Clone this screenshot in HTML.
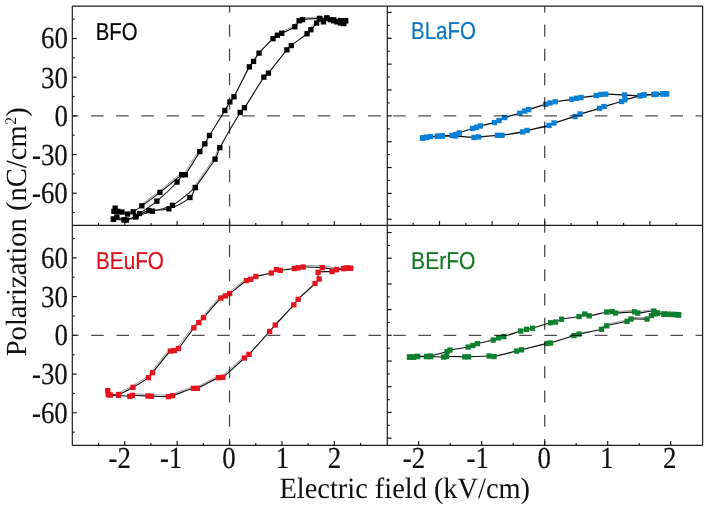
<!DOCTYPE html>
<html><head><meta charset="utf-8"><style>
html,body{margin:0;padding:0;background:#fff;}
body{width:708px;height:510px;overflow:hidden;position:relative;}
svg{position:absolute;left:0;top:0;will-change:transform;}
.s{font-family:"Liberation Serif",serif;fill:#111;}
.t{stroke:#111;stroke-width:0.2;}
.n{font-family:"Liberation Sans",sans-serif;}
</style></head><body>
<svg width="708" height="510" viewBox="0 0 708 510" text-rendering="geometricPrecision">
<rect width="708" height="510" fill="#fff"/>
<path d="M319.43,16.90 C316.58,17.10 305.89,17.66 302.33,18.11 C300.09,18.39 299.46,18.37 298.08,19.60 C296.69,20.83 296.86,23.43 294.02,25.49 C291.18,27.54 283.96,30.53 281.04,31.95 C278.81,33.04 277.27,33.67 276.52,34.02" fill="none" stroke="#8a8a8a" stroke-width="0.9"/>
<path d="M198.53,150.80 C196.13,154.63 187.05,170.00 184.12,173.78 C183.14,175.04 182.25,172.56 180.94,173.47 C176.77,176.38 165.75,186.01 159.08,191.22 C152.41,196.42 143.94,202.44 140.92,204.69" fill="none" stroke="#8a8a8a" stroke-width="0.9"/>
<path d="M345.50,20.70 C344.65,20.67 342.38,20.65 340.40,20.50 C338.42,20.35 335.87,20.13 333.60,19.80 C331.33,19.47 329.15,18.73 326.80,18.50 C324.45,18.27 323.15,18.23 319.50,18.40 C315.45,18.58 305.90,19.22 302.50,19.60 C300.72,19.80 300.37,19.52 299.10,20.70 C297.83,21.88 297.80,24.60 294.90,26.70 C292.00,28.80 284.63,31.87 281.70,33.30 C279.53,34.36 278.75,34.42 277.30,35.30 C275.85,36.18 274.94,36.71 273.00,38.60 C269.95,41.57 262.23,49.30 259.00,53.10 C255.79,56.87 255.22,59.10 253.60,61.40 C251.98,63.70 250.99,63.85 249.30,66.90 C246.03,72.80 237.23,90.95 234.00,96.80 C232.40,99.70 231.42,99.73 229.90,102.00 C228.38,104.27 227.44,106.23 224.90,110.40 C221.50,115.98 212.85,129.93 209.50,135.50 C207.04,139.59 206.42,141.12 204.80,143.80 C203.18,146.48 202.27,147.68 199.80,151.60 C196.55,156.75 188.30,170.85 185.30,174.70 C184.22,176.08 183.23,173.70 181.80,174.70 C177.58,177.65 166.67,187.20 160.00,192.40 C153.33,197.60 146.27,202.65 141.80,205.90 C137.56,208.98 135.57,210.53 133.20,211.90 C130.83,213.27 129.47,214.07 127.60,214.10 C125.73,214.13 123.60,212.57 122.00,212.10 C120.40,211.63 119.13,211.95 118.00,211.30 C116.87,210.65 115.87,208.20 115.20,208.20 C114.53,208.20 114.20,210.78 114.00,211.30" fill="none" stroke="#111" stroke-width="1.15" stroke-linejoin="round"/>
<path d="M181.80,174.70 C181.02,175.93 180.11,178.91 177.10,182.10 C172.93,186.52 163.07,195.95 156.80,201.20 C150.53,206.45 143.05,210.97 139.50,213.60 C137.39,215.16 137.67,215.92 135.50,217.00 C133.33,218.08 128.38,219.63 126.50,220.10 C125.37,220.38 125.30,220.16 124.20,219.80 C122.60,219.28 118.68,217.10 116.90,217.00 C115.12,216.90 114.07,218.83 113.50,219.20" fill="none" stroke="#333" stroke-width="1.15" stroke-linejoin="round"/>
<path d="M194.04,186.78 C197.34,182.05 209.75,165.05 213.82,158.42 C217.05,153.16 217.70,148.89 218.48,146.99" fill="none" stroke="#8a8a8a" stroke-width="0.9"/>
<path d="M306.06,32.53 C306.66,31.89 308.12,30.45 309.68,28.70 C311.25,26.95 313.79,23.88 315.46,22.02 C317.14,20.16 318.46,17.81 319.74,17.52 C321.02,17.24 322.59,19.85 323.16,20.32" fill="none" stroke="#8a8a8a" stroke-width="0.9"/>
<path d="M113.50,219.20 C115.28,219.30 120.47,220.25 124.20,219.80 C127.93,219.35 131.80,218.03 135.90,216.50 C140.00,214.97 143.32,211.88 148.80,210.60 C154.28,209.32 161.93,210.97 168.80,208.80 C175.67,206.63 185.58,201.13 190.00,197.60 C194.42,194.07 192.20,192.34 195.30,187.60 C199.48,181.20 211.02,165.85 215.10,159.20 C218.35,153.91 216.86,153.17 219.80,147.70 C223.98,139.92 236.08,119.15 240.20,112.50 C241.88,109.79 242.72,110.44 244.50,107.80 C248.45,101.92 259.92,82.97 263.90,77.20 C265.61,74.72 266.47,75.51 268.40,73.20 C272.22,68.65 283.00,54.52 286.80,49.90 C288.78,47.50 288.77,47.45 291.20,45.50 C294.57,42.80 303.73,36.33 307.00,33.70 C309.15,31.97 309.20,31.48 310.80,29.70 C312.40,27.92 315.07,24.78 316.60,23.00 C318.13,21.22 318.87,19.20 320.00,19.00 C321.13,18.80 322.27,21.98 323.40,21.80 C324.53,21.62 325.67,18.27 326.80,17.90 C327.93,17.53 329.07,19.13 330.20,19.60 C331.33,20.07 332.47,20.33 333.60,20.70 C334.73,21.07 335.87,21.42 337.00,21.80 C338.13,22.18 339.27,22.72 340.40,23.00 C341.53,23.28 342.95,23.88 343.80,23.50 C344.65,23.12 345.22,21.17 345.50,20.70" fill="none" stroke="#111" stroke-width="1.15" stroke-linejoin="round"/>
<path d="M195.30,187.60 C191.48,190.55 179.55,201.37 172.40,205.30 C165.25,209.23 158.48,209.33 152.40,211.20 C146.32,213.07 138.65,215.62 135.90,216.50" fill="none" stroke="#222" stroke-width="1.15" stroke-linejoin="round"/>
<rect x="342.9" y="18.1" width="5.3" height="5.3" fill="#000000"/>
<rect x="337.8" y="17.9" width="5.3" height="5.3" fill="#000000"/>
<rect x="331.0" y="17.2" width="5.3" height="5.3" fill="#000000"/>
<rect x="324.2" y="15.8" width="5.3" height="5.3" fill="#000000"/>
<rect x="316.9" y="15.7" width="5.3" height="5.3" fill="#000000"/>
<rect x="299.9" y="17.0" width="5.3" height="5.3" fill="#000000"/>
<rect x="296.5" y="18.1" width="5.3" height="5.3" fill="#000000"/>
<rect x="292.2" y="24.1" width="5.3" height="5.3" fill="#000000"/>
<rect x="279.1" y="30.6" width="5.3" height="5.3" fill="#000000"/>
<rect x="274.7" y="32.6" width="5.3" height="5.3" fill="#000000"/>
<rect x="270.4" y="36.0" width="5.3" height="5.3" fill="#000000"/>
<rect x="256.4" y="50.5" width="5.3" height="5.3" fill="#000000"/>
<rect x="250.9" y="58.8" width="5.3" height="5.3" fill="#000000"/>
<rect x="246.7" y="64.2" width="5.3" height="5.3" fill="#000000"/>
<rect x="231.3" y="94.1" width="5.3" height="5.3" fill="#000000"/>
<rect x="227.2" y="99.3" width="5.3" height="5.3" fill="#000000"/>
<rect x="222.2" y="107.8" width="5.3" height="5.3" fill="#000000"/>
<rect x="206.8" y="132.8" width="5.3" height="5.3" fill="#000000"/>
<rect x="202.2" y="141.2" width="5.3" height="5.3" fill="#000000"/>
<rect x="197.2" y="148.9" width="5.3" height="5.3" fill="#000000"/>
<rect x="182.7" y="172.0" width="5.3" height="5.3" fill="#000000"/>
<rect x="179.2" y="172.0" width="5.3" height="5.3" fill="#000000"/>
<rect x="157.3" y="189.8" width="5.3" height="5.3" fill="#000000"/>
<rect x="139.2" y="203.2" width="5.3" height="5.3" fill="#000000"/>
<rect x="130.5" y="209.2" width="5.3" height="5.3" fill="#000000"/>
<rect x="124.9" y="211.4" width="5.3" height="5.3" fill="#000000"/>
<rect x="119.3" y="209.4" width="5.3" height="5.3" fill="#000000"/>
<rect x="115.3" y="208.7" width="5.3" height="5.3" fill="#000000"/>
<rect x="112.5" y="205.5" width="5.3" height="5.3" fill="#000000"/>
<rect x="111.3" y="208.7" width="5.3" height="5.3" fill="#000000"/>
<rect x="179.2" y="172.0" width="5.3" height="5.3" fill="#000000"/>
<rect x="174.4" y="179.4" width="5.3" height="5.3" fill="#000000"/>
<rect x="154.2" y="198.5" width="5.3" height="5.3" fill="#000000"/>
<rect x="136.8" y="210.9" width="5.3" height="5.3" fill="#000000"/>
<rect x="132.8" y="214.3" width="5.3" height="5.3" fill="#000000"/>
<rect x="123.8" y="217.4" width="5.3" height="5.3" fill="#000000"/>
<rect x="121.5" y="217.2" width="5.3" height="5.3" fill="#000000"/>
<rect x="114.2" y="214.3" width="5.3" height="5.3" fill="#000000"/>
<rect x="110.8" y="216.5" width="5.3" height="5.3" fill="#000000"/>
<rect x="110.8" y="216.5" width="5.3" height="5.3" fill="#000000"/>
<rect x="121.5" y="217.2" width="5.3" height="5.3" fill="#000000"/>
<rect x="133.2" y="213.8" width="5.3" height="5.3" fill="#000000"/>
<rect x="146.2" y="207.9" width="5.3" height="5.3" fill="#000000"/>
<rect x="166.2" y="206.2" width="5.3" height="5.3" fill="#000000"/>
<rect x="187.3" y="194.9" width="5.3" height="5.3" fill="#000000"/>
<rect x="192.7" y="184.9" width="5.3" height="5.3" fill="#000000"/>
<rect x="212.4" y="156.5" width="5.3" height="5.3" fill="#000000"/>
<rect x="217.2" y="145.0" width="5.3" height="5.3" fill="#000000"/>
<rect x="237.5" y="109.8" width="5.3" height="5.3" fill="#000000"/>
<rect x="241.8" y="105.1" width="5.3" height="5.3" fill="#000000"/>
<rect x="261.2" y="74.5" width="5.3" height="5.3" fill="#000000"/>
<rect x="265.8" y="70.5" width="5.3" height="5.3" fill="#000000"/>
<rect x="284.2" y="47.2" width="5.3" height="5.3" fill="#000000"/>
<rect x="288.6" y="42.9" width="5.3" height="5.3" fill="#000000"/>
<rect x="304.4" y="31.1" width="5.3" height="5.3" fill="#000000"/>
<rect x="308.2" y="27.1" width="5.3" height="5.3" fill="#000000"/>
<rect x="314.0" y="20.4" width="5.3" height="5.3" fill="#000000"/>
<rect x="317.4" y="16.4" width="5.3" height="5.3" fill="#000000"/>
<rect x="320.8" y="19.2" width="5.3" height="5.3" fill="#000000"/>
<rect x="324.2" y="15.2" width="5.3" height="5.3" fill="#000000"/>
<rect x="327.6" y="17.0" width="5.3" height="5.3" fill="#000000"/>
<rect x="331.0" y="18.1" width="5.3" height="5.3" fill="#000000"/>
<rect x="334.4" y="19.2" width="5.3" height="5.3" fill="#000000"/>
<rect x="337.8" y="20.4" width="5.3" height="5.3" fill="#000000"/>
<rect x="341.2" y="20.9" width="5.3" height="5.3" fill="#000000"/>
<rect x="342.9" y="18.1" width="5.3" height="5.3" fill="#000000"/>
<rect x="192.7" y="184.9" width="5.3" height="5.3" fill="#000000"/>
<rect x="169.8" y="202.7" width="5.3" height="5.3" fill="#000000"/>
<rect x="149.8" y="208.5" width="5.3" height="5.3" fill="#000000"/>
<rect x="133.2" y="213.8" width="5.3" height="5.3" fill="#000000"/>
<path d="M666.50,93.80 C665.92,93.83 664.67,93.92 663.00,94.00 C661.33,94.08 658.00,94.22 656.50,94.30 C655.25,94.37 655.25,94.43 654.00,94.50 C651.92,94.62 646.33,94.78 644.00,95.00 C641.97,95.19 642.04,95.80 640.00,95.80 C636.75,95.80 630.20,95.27 624.50,95.00 C618.80,94.73 609.72,94.30 605.80,94.20 C603.40,94.14 602.60,94.17 601.00,94.40 C599.40,94.63 598.64,95.21 596.20,95.60 C592.87,96.13 584.28,97.15 581.00,97.60 C578.74,97.91 578.03,98.02 576.50,98.30 C574.97,98.58 574.17,98.91 571.80,99.30 C568.27,99.88 558.93,101.18 555.30,101.80 C552.62,102.25 551.63,102.58 550.00,103.00 C548.37,103.42 547.74,103.60 545.50,104.30 C541.93,105.42 532.07,108.57 528.60,109.70 C526.63,110.34 526.18,110.50 524.70,111.10 C523.22,111.70 522.30,112.46 519.70,113.30 C516.33,114.38 507.95,116.38 504.50,117.60 C501.55,118.64 500.68,119.77 499.00,120.60 C497.32,121.43 496.81,121.90 494.40,122.60 C491.28,123.50 483.28,125.22 480.30,126.00 C478.36,126.51 477.80,126.88 476.50,127.30 C475.20,127.72 474.48,127.85 472.50,128.50 C469.62,129.45 462.02,132.00 459.20,133.00 C457.36,133.65 456.80,134.08 455.60,134.50 C454.40,134.92 453.86,135.32 452.00,135.50 C449.77,135.72 444.63,135.68 442.20,135.80 C439.79,135.92 439.37,136.07 437.40,136.20 C435.43,136.33 432.22,136.43 430.40,136.60 C428.58,136.77 427.82,136.97 426.50,137.20 C425.18,137.43 423.17,137.87 422.50,138.00" fill="none" stroke="#111" stroke-width="1.3" stroke-linejoin="round"/>
<path d="M422.50,138.00 C423.17,137.93 424.50,137.81 426.50,137.60 C428.98,137.33 434.78,136.65 437.40,136.40 C439.79,136.17 439.80,136.15 442.20,136.10 C445.23,136.03 451.57,135.88 455.60,136.00 C459.63,136.12 463.33,136.55 466.40,136.80 C469.47,137.05 471.98,137.47 474.00,137.50 C476.02,137.53 476.25,137.21 478.50,137.00 C482.38,136.63 493.38,135.58 497.30,135.30 C499.64,135.13 499.67,135.61 502.00,135.30 C506.20,134.75 518.33,132.80 522.50,132.00 C524.83,131.55 524.70,131.06 527.00,130.50 C531.42,129.42 544.50,126.75 549.00,125.50 C551.69,124.75 551.36,123.92 554.00,123.00 C558.33,121.48 570.67,117.90 575.00,116.40 C577.62,115.49 577.37,114.87 580.00,114.00 C584.08,112.65 595.50,109.53 599.50,108.30 C601.80,107.59 601.70,107.31 604.00,106.60 C607.67,105.47 618.00,102.63 621.50,101.50 C623.35,100.90 623.14,100.37 625.00,99.80 C628.08,98.85 636.83,96.60 640.00,95.80 C641.98,95.30 641.97,95.19 644.00,95.00 C646.33,94.78 650.83,94.67 654.00,94.50 C657.17,94.33 660.92,94.12 663.00,94.00 C664.75,93.90 665.92,93.83 666.50,93.80" fill="none" stroke="#111" stroke-width="1.3" stroke-linejoin="round"/>
<rect x="663.9" y="91.1" width="5.3" height="5.3" fill="#0880d6"/>
<rect x="660.4" y="91.3" width="5.3" height="5.3" fill="#0880d6"/>
<rect x="653.9" y="91.6" width="5.3" height="5.3" fill="#0880d6"/>
<rect x="651.4" y="91.8" width="5.3" height="5.3" fill="#0880d6"/>
<rect x="641.4" y="92.3" width="5.3" height="5.3" fill="#0880d6"/>
<rect x="637.4" y="93.1" width="5.3" height="5.3" fill="#0880d6"/>
<rect x="621.9" y="92.3" width="5.3" height="5.3" fill="#0880d6"/>
<rect x="603.1" y="91.5" width="5.3" height="5.3" fill="#0880d6"/>
<rect x="598.4" y="91.8" width="5.3" height="5.3" fill="#0880d6"/>
<rect x="593.6" y="92.9" width="5.3" height="5.3" fill="#0880d6"/>
<rect x="578.4" y="94.9" width="5.3" height="5.3" fill="#0880d6"/>
<rect x="573.9" y="95.6" width="5.3" height="5.3" fill="#0880d6"/>
<rect x="569.1" y="96.6" width="5.3" height="5.3" fill="#0880d6"/>
<rect x="552.6" y="99.1" width="5.3" height="5.3" fill="#0880d6"/>
<rect x="547.4" y="100.3" width="5.3" height="5.3" fill="#0880d6"/>
<rect x="542.9" y="101.6" width="5.3" height="5.3" fill="#0880d6"/>
<rect x="526.0" y="107.0" width="5.3" height="5.3" fill="#0880d6"/>
<rect x="522.1" y="108.4" width="5.3" height="5.3" fill="#0880d6"/>
<rect x="517.1" y="110.6" width="5.3" height="5.3" fill="#0880d6"/>
<rect x="501.9" y="114.9" width="5.3" height="5.3" fill="#0880d6"/>
<rect x="496.4" y="117.9" width="5.3" height="5.3" fill="#0880d6"/>
<rect x="491.8" y="119.9" width="5.3" height="5.3" fill="#0880d6"/>
<rect x="477.7" y="123.3" width="5.3" height="5.3" fill="#0880d6"/>
<rect x="473.9" y="124.6" width="5.3" height="5.3" fill="#0880d6"/>
<rect x="469.9" y="125.8" width="5.3" height="5.3" fill="#0880d6"/>
<rect x="456.6" y="130.3" width="5.3" height="5.3" fill="#0880d6"/>
<rect x="453.0" y="131.8" width="5.3" height="5.3" fill="#0880d6"/>
<rect x="449.4" y="132.8" width="5.3" height="5.3" fill="#0880d6"/>
<rect x="439.6" y="133.2" width="5.3" height="5.3" fill="#0880d6"/>
<rect x="434.8" y="133.5" width="5.3" height="5.3" fill="#0880d6"/>
<rect x="427.8" y="133.9" width="5.3" height="5.3" fill="#0880d6"/>
<rect x="423.9" y="134.5" width="5.3" height="5.3" fill="#0880d6"/>
<rect x="419.9" y="135.3" width="5.3" height="5.3" fill="#0880d6"/>
<rect x="419.9" y="135.3" width="5.3" height="5.3" fill="#0880d6"/>
<rect x="423.9" y="134.9" width="5.3" height="5.3" fill="#0880d6"/>
<rect x="434.8" y="133.8" width="5.3" height="5.3" fill="#0880d6"/>
<rect x="439.6" y="133.4" width="5.3" height="5.3" fill="#0880d6"/>
<rect x="453.0" y="133.3" width="5.3" height="5.3" fill="#0880d6"/>
<rect x="471.4" y="134.8" width="5.3" height="5.3" fill="#0880d6"/>
<rect x="475.9" y="134.3" width="5.3" height="5.3" fill="#0880d6"/>
<rect x="494.7" y="132.7" width="5.3" height="5.3" fill="#0880d6"/>
<rect x="499.4" y="132.7" width="5.3" height="5.3" fill="#0880d6"/>
<rect x="519.9" y="129.3" width="5.3" height="5.3" fill="#0880d6"/>
<rect x="524.4" y="127.8" width="5.3" height="5.3" fill="#0880d6"/>
<rect x="546.4" y="122.8" width="5.3" height="5.3" fill="#0880d6"/>
<rect x="551.4" y="120.3" width="5.3" height="5.3" fill="#0880d6"/>
<rect x="572.4" y="113.8" width="5.3" height="5.3" fill="#0880d6"/>
<rect x="577.4" y="111.3" width="5.3" height="5.3" fill="#0880d6"/>
<rect x="596.9" y="105.6" width="5.3" height="5.3" fill="#0880d6"/>
<rect x="601.4" y="103.9" width="5.3" height="5.3" fill="#0880d6"/>
<rect x="618.9" y="98.8" width="5.3" height="5.3" fill="#0880d6"/>
<rect x="622.4" y="97.1" width="5.3" height="5.3" fill="#0880d6"/>
<rect x="637.4" y="93.1" width="5.3" height="5.3" fill="#0880d6"/>
<rect x="641.4" y="92.3" width="5.3" height="5.3" fill="#0880d6"/>
<rect x="651.4" y="91.8" width="5.3" height="5.3" fill="#0880d6"/>
<rect x="660.4" y="91.3" width="5.3" height="5.3" fill="#0880d6"/>
<rect x="663.9" y="91.1" width="5.3" height="5.3" fill="#0880d6"/>
<path d="M336.56,268.00 C334.19,267.69 327.89,266.52 322.31,266.10 C316.73,265.69 307.18,265.46 303.09,265.50 C300.39,265.52 298.64,266.18 297.75,266.32" fill="none" stroke="#8a8a8a" stroke-width="0.9"/>
<path d="M245.66,279.26 C242.85,281.43 232.29,289.75 228.82,292.29 C226.98,293.63 226.34,293.69 224.82,294.46 C223.31,295.24 221.75,294.95 219.74,296.94 C216.02,300.63 206.15,312.50 202.48,316.60 C200.19,319.17 199.34,319.85 197.71,321.57 C196.09,323.28 194.97,324.01 192.72,326.87 C189.33,331.20 180.47,343.83 177.36,347.53 C176.19,348.92 175.42,348.66 174.06,349.07 C172.71,349.47 170.97,348.21 169.23,349.94 C165.46,353.71 155.06,367.24 151.44,371.65 C149.48,374.03 149.97,374.55 147.50,376.40 C144.30,378.79 137.16,383.22 132.26,386.00 C127.36,388.78 120.47,391.90 118.11,393.08" fill="none" stroke="#8a8a8a" stroke-width="0.9"/>
<path d="M350.50,268.30 C349.92,268.25 348.17,267.97 347.00,268.00 C345.83,268.03 345.25,268.25 343.50,268.50 C341.75,268.75 340.03,269.65 336.50,269.50 C332.95,269.35 327.77,268.02 322.20,267.60 C316.63,267.18 307.13,266.97 303.10,267.00 C300.52,267.02 299.48,267.55 298.00,267.80 C296.52,268.05 296.11,268.23 294.20,268.50 C291.23,268.92 283.18,270.13 280.20,270.30 C278.21,270.41 277.80,269.05 276.30,269.50 C274.80,269.95 274.13,272.01 271.20,273.00 C267.80,274.15 259.30,275.37 255.90,276.40 C253.12,277.25 252.37,278.52 250.80,279.20 C249.23,279.88 248.36,279.24 246.50,280.50 C242.98,282.88 233.20,290.95 229.70,293.50 C227.76,294.91 226.98,295.05 225.50,295.80 C224.02,296.55 222.64,296.17 220.80,298.00 C217.15,301.63 207.27,313.50 203.60,317.60 C201.29,320.18 200.42,320.90 198.80,322.60 C197.18,324.30 196.10,324.99 193.90,327.80 C190.52,332.12 181.73,344.72 178.50,348.50 C177.05,350.20 175.87,350.08 174.50,350.50 C173.13,350.92 171.79,349.50 170.30,351.00 C166.65,354.68 156.25,368.17 152.60,372.60 C150.52,375.12 151.01,375.64 148.40,377.60 C145.13,380.05 137.97,384.48 133.00,387.30 C128.03,390.12 122.35,393.22 118.60,394.50 C114.85,395.78 112.18,395.00 110.50,395.00 C109.47,395.00 108.95,395.23 108.50,394.50 C108.05,393.77 107.92,391.25 107.80,390.60" fill="none" stroke="#111" stroke-width="1.15" stroke-linejoin="round"/>
<path d="M129.90,394.90 C130.33,394.72 131.07,393.83 132.47,393.80 C135.50,393.73 144.89,394.35 148.07,394.50 C149.81,394.58 149.81,394.65 151.54,394.70 C154.94,394.80 165.03,395.19 168.46,395.10 C170.35,395.05 170.33,394.78 172.12,394.18 C176.19,392.80 188.75,388.07 192.88,386.86 C194.81,386.29 195.06,387.71 196.91,386.92 C201.07,385.15 213.60,378.04 217.80,376.22 C219.78,375.37 220.38,377.29 222.10,376.00 C226.38,372.78 239.19,360.66 243.51,356.87 C245.68,354.97 247.26,353.87 248.01,353.27" fill="none" stroke="#8a8a8a" stroke-width="0.9"/>
<path d="M108.50,394.50 C110.18,394.63 115.03,394.98 118.60,395.30 C122.17,395.62 127.58,396.40 129.90,396.40 C131.31,396.40 131.09,395.33 132.50,395.30 C135.52,395.23 144.83,395.85 148.00,396.00 C149.75,396.08 149.75,396.15 151.50,396.20 C154.92,396.30 164.98,396.70 168.50,396.60 C170.61,396.54 170.60,396.27 172.60,395.60 C176.73,394.22 189.15,389.52 193.30,388.30 C195.32,387.71 195.57,389.12 197.50,388.30 C201.68,386.52 214.15,379.45 218.40,377.60 C220.52,376.68 221.15,378.59 223.00,377.20 C227.35,373.93 240.15,361.82 244.50,358.00 C246.72,356.05 247.07,356.45 249.10,354.30 C253.28,349.87 265.25,336.28 269.60,331.40 C272.43,328.22 272.33,328.14 275.20,325.00 C279.23,320.58 289.98,309.18 293.80,304.90 C296.15,302.26 295.62,301.81 298.10,299.30 C301.63,295.73 311.50,286.88 315.00,283.50 C317.19,281.38 318.60,280.87 319.10,279.00 C319.60,277.13 315.85,273.55 318.00,272.30 C320.15,271.05 328.92,271.97 332.00,271.50 C334.43,271.13 334.58,270.00 336.50,269.50 C338.42,269.00 341.75,268.75 343.50,268.50 C345.25,268.25 345.83,268.03 347.00,268.00 C348.17,267.97 349.92,268.25 350.50,268.30" fill="none" stroke="#111" stroke-width="1.15" stroke-linejoin="round"/>
<rect x="347.9" y="265.7" width="5.3" height="5.3" fill="#e6141e"/>
<rect x="344.4" y="265.4" width="5.3" height="5.3" fill="#e6141e"/>
<rect x="340.9" y="265.9" width="5.3" height="5.3" fill="#e6141e"/>
<rect x="333.9" y="266.9" width="5.3" height="5.3" fill="#e6141e"/>
<rect x="319.6" y="265.0" width="5.3" height="5.3" fill="#e6141e"/>
<rect x="300.5" y="264.4" width="5.3" height="5.3" fill="#e6141e"/>
<rect x="295.4" y="265.2" width="5.3" height="5.3" fill="#e6141e"/>
<rect x="291.6" y="265.9" width="5.3" height="5.3" fill="#e6141e"/>
<rect x="277.6" y="267.7" width="5.3" height="5.3" fill="#e6141e"/>
<rect x="273.7" y="266.9" width="5.3" height="5.3" fill="#e6141e"/>
<rect x="268.6" y="270.4" width="5.3" height="5.3" fill="#e6141e"/>
<rect x="253.2" y="273.8" width="5.3" height="5.3" fill="#e6141e"/>
<rect x="248.2" y="276.6" width="5.3" height="5.3" fill="#e6141e"/>
<rect x="243.8" y="277.9" width="5.3" height="5.3" fill="#e6141e"/>
<rect x="227.0" y="290.9" width="5.3" height="5.3" fill="#e6141e"/>
<rect x="222.8" y="293.2" width="5.3" height="5.3" fill="#e6141e"/>
<rect x="218.2" y="295.4" width="5.3" height="5.3" fill="#e6141e"/>
<rect x="200.9" y="315.0" width="5.3" height="5.3" fill="#e6141e"/>
<rect x="196.2" y="320.0" width="5.3" height="5.3" fill="#e6141e"/>
<rect x="191.2" y="325.2" width="5.3" height="5.3" fill="#e6141e"/>
<rect x="175.8" y="345.9" width="5.3" height="5.3" fill="#e6141e"/>
<rect x="171.8" y="347.9" width="5.3" height="5.3" fill="#e6141e"/>
<rect x="167.7" y="348.4" width="5.3" height="5.3" fill="#e6141e"/>
<rect x="149.9" y="370.0" width="5.3" height="5.3" fill="#e6141e"/>
<rect x="145.8" y="375.0" width="5.3" height="5.3" fill="#e6141e"/>
<rect x="130.3" y="384.7" width="5.3" height="5.3" fill="#e6141e"/>
<rect x="115.9" y="391.9" width="5.3" height="5.3" fill="#e6141e"/>
<rect x="107.8" y="392.4" width="5.3" height="5.3" fill="#e6141e"/>
<rect x="105.8" y="391.9" width="5.3" height="5.3" fill="#e6141e"/>
<rect x="105.1" y="388.0" width="5.3" height="5.3" fill="#e6141e"/>
<rect x="105.8" y="391.9" width="5.3" height="5.3" fill="#e6141e"/>
<rect x="115.9" y="392.7" width="5.3" height="5.3" fill="#e6141e"/>
<rect x="127.2" y="393.8" width="5.3" height="5.3" fill="#e6141e"/>
<rect x="129.8" y="392.7" width="5.3" height="5.3" fill="#e6141e"/>
<rect x="145.3" y="393.4" width="5.3" height="5.3" fill="#e6141e"/>
<rect x="148.8" y="393.6" width="5.3" height="5.3" fill="#e6141e"/>
<rect x="165.8" y="394.0" width="5.3" height="5.3" fill="#e6141e"/>
<rect x="169.9" y="393.0" width="5.3" height="5.3" fill="#e6141e"/>
<rect x="190.7" y="385.7" width="5.3" height="5.3" fill="#e6141e"/>
<rect x="194.8" y="385.7" width="5.3" height="5.3" fill="#e6141e"/>
<rect x="215.8" y="375.0" width="5.3" height="5.3" fill="#e6141e"/>
<rect x="220.3" y="374.6" width="5.3" height="5.3" fill="#e6141e"/>
<rect x="241.8" y="355.4" width="5.3" height="5.3" fill="#e6141e"/>
<rect x="246.4" y="351.7" width="5.3" height="5.3" fill="#e6141e"/>
<rect x="267.0" y="328.8" width="5.3" height="5.3" fill="#e6141e"/>
<rect x="272.6" y="322.4" width="5.3" height="5.3" fill="#e6141e"/>
<rect x="291.2" y="302.2" width="5.3" height="5.3" fill="#e6141e"/>
<rect x="295.5" y="296.7" width="5.3" height="5.3" fill="#e6141e"/>
<rect x="312.4" y="280.9" width="5.3" height="5.3" fill="#e6141e"/>
<rect x="316.5" y="276.4" width="5.3" height="5.3" fill="#e6141e"/>
<rect x="315.4" y="269.7" width="5.3" height="5.3" fill="#e6141e"/>
<rect x="329.4" y="268.9" width="5.3" height="5.3" fill="#e6141e"/>
<rect x="333.9" y="266.9" width="5.3" height="5.3" fill="#e6141e"/>
<rect x="340.9" y="265.9" width="5.3" height="5.3" fill="#e6141e"/>
<rect x="344.4" y="265.4" width="5.3" height="5.3" fill="#e6141e"/>
<rect x="347.9" y="265.7" width="5.3" height="5.3" fill="#e6141e"/>
<path d="M657.90,311.66 C657.21,311.31 656.09,309.61 653.80,309.60 C650.44,309.59 640.96,311.47 637.74,311.60 C636.01,311.67 636.23,310.40 634.50,310.40 C630.80,310.40 619.24,311.65 615.52,311.60 C613.68,311.58 613.66,310.27 612.16,310.11 C610.66,309.95 607.48,310.54 606.54,310.62" fill="none" stroke="#8a8a8a" stroke-width="0.9"/>
<path d="M678.50,314.80 C678.08,314.75 677.08,314.57 676.00,314.50 C674.92,314.43 673.33,314.43 672.00,314.40 C670.67,314.37 669.33,314.37 668.00,314.30 C666.67,314.23 665.75,314.22 664.00,314.00 C662.25,313.78 659.20,313.50 657.50,313.00 C655.80,312.50 655.90,311.00 653.80,311.00 C650.52,311.00 641.02,312.87 637.80,313.00 C636.05,313.07 636.26,311.80 634.50,311.80 C630.78,311.80 619.25,313.05 615.50,313.00 C613.60,312.97 613.45,311.67 612.00,311.50 C610.55,311.33 609.37,311.52 606.80,312.00 C603.00,312.72 592.87,315.47 589.20,315.80 C586.83,316.02 586.50,313.88 584.80,314.00 C583.10,314.12 582.08,315.81 579.00,316.50 C575.12,317.37 565.42,318.28 561.50,319.20 C558.28,319.95 557.33,321.42 555.50,322.00 C553.67,322.58 552.94,322.05 550.50,322.70 C546.65,323.73 536.40,327.10 532.40,328.20 C529.51,329.00 528.43,328.83 526.50,329.30 C524.57,329.77 523.63,330.10 520.80,331.00 C517.02,332.20 507.52,335.37 503.80,336.50 C501.19,337.30 500.27,337.22 498.50,337.80 C496.73,338.38 495.97,339.24 493.20,340.00 C489.68,340.97 480.80,342.70 477.40,343.60 C475.01,344.23 474.37,344.83 472.80,345.40 C471.23,345.97 470.48,346.50 468.00,347.00 C464.20,347.77 453.50,349.25 450.00,350.00 C448.36,350.35 448.60,351.01 447.00,351.50 C443.75,352.50 433.92,355.20 430.50,356.00 C428.55,356.46 428.51,356.25 426.50,356.30 C424.33,356.35 419.67,356.18 417.50,356.30 C415.47,356.41 414.83,356.88 413.50,357.00 C412.17,357.12 410.17,357.00 409.50,357.00" fill="none" stroke="#111" stroke-width="1.15" stroke-linejoin="round"/>
<path d="M601.00,327.86 C601.88,327.29 603.29,325.39 606.29,324.46 C610.56,323.14 622.53,321.09 626.62,319.95 C628.95,319.30 628.44,317.89 630.84,317.61 C634.20,317.22 643.45,318.17 646.76,317.62 C649.31,317.20 649.45,315.18 650.74,314.33 C652.02,313.47 653.84,312.81 654.46,312.51" fill="none" stroke="#8a8a8a" stroke-width="0.9"/>
<path d="M409.50,357.00 C410.17,357.00 412.17,357.08 413.50,357.00 C414.83,356.92 415.49,356.56 417.50,356.50 C419.67,356.43 424.33,356.58 426.50,356.60 C428.50,356.62 428.50,356.55 430.50,356.60 C433.32,356.67 440.75,357.02 443.40,357.00 C444.92,356.99 444.88,356.51 446.40,356.50 C449.93,356.47 460.92,356.75 464.60,356.80 C466.55,356.83 466.55,356.86 468.50,356.80 C472.57,356.67 484.75,356.05 489.00,356.00 C491.51,355.97 491.53,356.95 494.00,356.50 C498.58,355.67 511.92,352.12 516.50,351.00 C519.00,350.39 519.01,350.42 521.50,349.80 C526.58,348.53 542.17,344.53 547.00,343.40 C548.71,343.00 548.81,343.49 550.50,343.00 C555.00,341.70 569.25,337.10 574.00,335.60 C576.50,334.81 576.44,334.60 579.00,334.00 C583.57,332.93 596.78,330.57 601.40,329.20 C604.42,328.31 603.69,326.73 606.70,325.80 C610.97,324.48 622.95,322.43 627.00,321.30 C629.22,320.68 628.71,319.26 631.00,319.00 C634.33,318.62 643.58,319.58 647.00,319.00 C649.81,318.52 650.17,316.37 651.50,315.50 C652.83,314.63 654.00,314.22 655.00,313.80 C656.00,313.38 656.19,312.97 657.50,313.00 C659.00,313.03 662.25,313.78 664.00,314.00 C665.75,314.22 666.67,314.23 668.00,314.30 C669.33,314.37 670.67,314.37 672.00,314.40 C673.33,314.43 674.92,314.43 676.00,314.50 C677.08,314.57 678.08,314.75 678.50,314.80" fill="none" stroke="#111" stroke-width="1.15" stroke-linejoin="round"/>
<rect x="675.9" y="312.2" width="5.3" height="5.3" fill="#0e8030"/>
<rect x="673.4" y="311.9" width="5.3" height="5.3" fill="#0e8030"/>
<rect x="669.4" y="311.8" width="5.3" height="5.3" fill="#0e8030"/>
<rect x="665.4" y="311.7" width="5.3" height="5.3" fill="#0e8030"/>
<rect x="661.4" y="311.4" width="5.3" height="5.3" fill="#0e8030"/>
<rect x="654.9" y="310.4" width="5.3" height="5.3" fill="#0e8030"/>
<rect x="651.1" y="308.4" width="5.3" height="5.3" fill="#0e8030"/>
<rect x="635.1" y="310.4" width="5.3" height="5.3" fill="#0e8030"/>
<rect x="631.9" y="309.2" width="5.3" height="5.3" fill="#0e8030"/>
<rect x="612.9" y="310.4" width="5.3" height="5.3" fill="#0e8030"/>
<rect x="609.4" y="308.9" width="5.3" height="5.3" fill="#0e8030"/>
<rect x="604.1" y="309.4" width="5.3" height="5.3" fill="#0e8030"/>
<rect x="586.6" y="313.2" width="5.3" height="5.3" fill="#0e8030"/>
<rect x="582.1" y="311.4" width="5.3" height="5.3" fill="#0e8030"/>
<rect x="576.4" y="313.9" width="5.3" height="5.3" fill="#0e8030"/>
<rect x="558.9" y="316.6" width="5.3" height="5.3" fill="#0e8030"/>
<rect x="552.9" y="319.4" width="5.3" height="5.3" fill="#0e8030"/>
<rect x="547.9" y="320.1" width="5.3" height="5.3" fill="#0e8030"/>
<rect x="529.8" y="325.6" width="5.3" height="5.3" fill="#0e8030"/>
<rect x="523.9" y="326.7" width="5.3" height="5.3" fill="#0e8030"/>
<rect x="518.1" y="328.4" width="5.3" height="5.3" fill="#0e8030"/>
<rect x="501.2" y="333.9" width="5.3" height="5.3" fill="#0e8030"/>
<rect x="495.9" y="335.2" width="5.3" height="5.3" fill="#0e8030"/>
<rect x="490.6" y="337.4" width="5.3" height="5.3" fill="#0e8030"/>
<rect x="474.8" y="341.0" width="5.3" height="5.3" fill="#0e8030"/>
<rect x="470.2" y="342.8" width="5.3" height="5.3" fill="#0e8030"/>
<rect x="465.4" y="344.4" width="5.3" height="5.3" fill="#0e8030"/>
<rect x="447.4" y="347.4" width="5.3" height="5.3" fill="#0e8030"/>
<rect x="444.4" y="348.9" width="5.3" height="5.3" fill="#0e8030"/>
<rect x="427.9" y="353.4" width="5.3" height="5.3" fill="#0e8030"/>
<rect x="423.9" y="353.7" width="5.3" height="5.3" fill="#0e8030"/>
<rect x="414.9" y="353.7" width="5.3" height="5.3" fill="#0e8030"/>
<rect x="410.9" y="354.4" width="5.3" height="5.3" fill="#0e8030"/>
<rect x="406.9" y="354.4" width="5.3" height="5.3" fill="#0e8030"/>
<rect x="406.9" y="354.4" width="5.3" height="5.3" fill="#0e8030"/>
<rect x="410.9" y="354.4" width="5.3" height="5.3" fill="#0e8030"/>
<rect x="414.9" y="353.9" width="5.3" height="5.3" fill="#0e8030"/>
<rect x="423.9" y="354.0" width="5.3" height="5.3" fill="#0e8030"/>
<rect x="427.9" y="354.0" width="5.3" height="5.3" fill="#0e8030"/>
<rect x="440.8" y="354.4" width="5.3" height="5.3" fill="#0e8030"/>
<rect x="443.8" y="353.9" width="5.3" height="5.3" fill="#0e8030"/>
<rect x="462.0" y="354.2" width="5.3" height="5.3" fill="#0e8030"/>
<rect x="465.9" y="354.2" width="5.3" height="5.3" fill="#0e8030"/>
<rect x="486.4" y="353.4" width="5.3" height="5.3" fill="#0e8030"/>
<rect x="491.4" y="353.9" width="5.3" height="5.3" fill="#0e8030"/>
<rect x="513.9" y="348.4" width="5.3" height="5.3" fill="#0e8030"/>
<rect x="518.9" y="347.2" width="5.3" height="5.3" fill="#0e8030"/>
<rect x="544.4" y="340.8" width="5.3" height="5.3" fill="#0e8030"/>
<rect x="547.9" y="340.4" width="5.3" height="5.3" fill="#0e8030"/>
<rect x="571.4" y="333.0" width="5.3" height="5.3" fill="#0e8030"/>
<rect x="576.4" y="331.4" width="5.3" height="5.3" fill="#0e8030"/>
<rect x="598.8" y="326.6" width="5.3" height="5.3" fill="#0e8030"/>
<rect x="604.1" y="323.2" width="5.3" height="5.3" fill="#0e8030"/>
<rect x="624.4" y="318.7" width="5.3" height="5.3" fill="#0e8030"/>
<rect x="628.4" y="316.4" width="5.3" height="5.3" fill="#0e8030"/>
<rect x="644.4" y="316.4" width="5.3" height="5.3" fill="#0e8030"/>
<rect x="648.9" y="312.9" width="5.3" height="5.3" fill="#0e8030"/>
<rect x="652.4" y="311.2" width="5.3" height="5.3" fill="#0e8030"/>
<rect x="654.9" y="310.4" width="5.3" height="5.3" fill="#0e8030"/>
<rect x="661.4" y="311.4" width="5.3" height="5.3" fill="#0e8030"/>
<rect x="665.4" y="311.7" width="5.3" height="5.3" fill="#0e8030"/>
<rect x="669.4" y="311.8" width="5.3" height="5.3" fill="#0e8030"/>
<rect x="673.4" y="311.9" width="5.3" height="5.3" fill="#0e8030"/>
<rect x="675.9" y="312.2" width="5.3" height="5.3" fill="#0e8030"/>
<line x1="72.30" y1="115.85" x2="387.30" y2="115.85" stroke="#000" stroke-opacity="0.69" stroke-width="1.25" stroke-dasharray="12.6 12.60" stroke-dashoffset="6.60"/>
<line x1="229.55" y1="6.10" x2="229.55" y2="225.40" stroke="#000" stroke-opacity="0.7" stroke-width="1.3" stroke-dasharray="12.2 12.05" stroke-dashoffset="5.85"/>
<line x1="387.30" y1="115.85" x2="702.60" y2="115.85" stroke="#000" stroke-opacity="0.69" stroke-width="1.25" stroke-dasharray="12.6 12.60" stroke-dashoffset="19.30"/>
<line x1="544.70" y1="6.10" x2="544.70" y2="225.40" stroke="#000" stroke-opacity="0.7" stroke-width="1.3" stroke-dasharray="12.2 12.05" stroke-dashoffset="5.85"/>
<line x1="72.30" y1="335.35" x2="387.30" y2="335.35" stroke="#000" stroke-opacity="0.69" stroke-width="1.25" stroke-dasharray="12.6 12.60" stroke-dashoffset="6.30"/>
<line x1="229.55" y1="225.40" x2="229.55" y2="445.30" stroke="#000" stroke-opacity="0.7" stroke-width="1.3" stroke-dasharray="12.2 12.05" stroke-dashoffset="4.75"/>
<line x1="387.30" y1="335.35" x2="702.60" y2="335.35" stroke="#000" stroke-opacity="0.69" stroke-width="1.25" stroke-dasharray="12.6 12.60" stroke-dashoffset="19.30"/>
<line x1="544.70" y1="225.40" x2="544.70" y2="445.30" stroke="#000" stroke-opacity="0.7" stroke-width="1.3" stroke-dasharray="12.2 12.05" stroke-dashoffset="4.75"/>
<line x1="72.30" y1="6.10" x2="702.60" y2="6.10" stroke="#1c1c1c" stroke-width="1.2" />
<line x1="72.30" y1="445.30" x2="702.60" y2="445.30" stroke="#1c1c1c" stroke-width="1.2" />
<line x1="72.30" y1="6.10" x2="72.30" y2="445.30" stroke="#1c1c1c" stroke-width="1.2" />
<line x1="702.60" y1="6.10" x2="702.60" y2="445.30" stroke="#1c1c1c" stroke-width="1.2" />
<line x1="387.30" y1="6.10" x2="387.30" y2="445.30" stroke="#1c1c1c" stroke-width="1.2" />
<line x1="72.30" y1="225.40" x2="702.60" y2="225.40" stroke="#1c1c1c" stroke-width="1.2" />
<line x1="124.75" y1="225.40" x2="124.75" y2="221.00" stroke="#1c1c1c" stroke-width="1.2" />
<line x1="177.15" y1="225.40" x2="177.15" y2="221.00" stroke="#1c1c1c" stroke-width="1.2" />
<line x1="229.55" y1="225.40" x2="229.55" y2="221.00" stroke="#1c1c1c" stroke-width="1.2" />
<line x1="281.95" y1="225.40" x2="281.95" y2="221.00" stroke="#1c1c1c" stroke-width="1.2" />
<line x1="334.35" y1="225.40" x2="334.35" y2="221.00" stroke="#1c1c1c" stroke-width="1.2" />
<line x1="98.55" y1="225.40" x2="98.55" y2="223.00" stroke="#1c1c1c" stroke-width="1.2" />
<line x1="150.95" y1="225.40" x2="150.95" y2="223.00" stroke="#1c1c1c" stroke-width="1.2" />
<line x1="203.35" y1="225.40" x2="203.35" y2="223.00" stroke="#1c1c1c" stroke-width="1.2" />
<line x1="255.75" y1="225.40" x2="255.75" y2="223.00" stroke="#1c1c1c" stroke-width="1.2" />
<line x1="308.15" y1="225.40" x2="308.15" y2="223.00" stroke="#1c1c1c" stroke-width="1.2" />
<line x1="360.55" y1="225.40" x2="360.55" y2="223.00" stroke="#1c1c1c" stroke-width="1.2" />
<line x1="72.30" y1="38.51" x2="76.70" y2="38.51" stroke="#1c1c1c" stroke-width="1.2" />
<line x1="72.30" y1="77.18" x2="76.70" y2="77.18" stroke="#1c1c1c" stroke-width="1.2" />
<line x1="72.30" y1="115.85" x2="76.70" y2="115.85" stroke="#1c1c1c" stroke-width="1.2" />
<line x1="72.30" y1="154.52" x2="76.70" y2="154.52" stroke="#1c1c1c" stroke-width="1.2" />
<line x1="72.30" y1="193.19" x2="76.70" y2="193.19" stroke="#1c1c1c" stroke-width="1.2" />
<line x1="72.30" y1="19.17" x2="74.70" y2="19.17" stroke="#1c1c1c" stroke-width="1.2" />
<line x1="72.30" y1="57.84" x2="74.70" y2="57.84" stroke="#1c1c1c" stroke-width="1.2" />
<line x1="72.30" y1="96.52" x2="74.70" y2="96.52" stroke="#1c1c1c" stroke-width="1.2" />
<line x1="72.30" y1="135.19" x2="74.70" y2="135.19" stroke="#1c1c1c" stroke-width="1.2" />
<line x1="72.30" y1="173.85" x2="74.70" y2="173.85" stroke="#1c1c1c" stroke-width="1.2" />
<line x1="72.30" y1="212.52" x2="74.70" y2="212.52" stroke="#1c1c1c" stroke-width="1.2" />
<line x1="439.50" y1="225.40" x2="439.50" y2="221.00" stroke="#1c1c1c" stroke-width="1.2" />
<line x1="492.10" y1="225.40" x2="492.10" y2="221.00" stroke="#1c1c1c" stroke-width="1.2" />
<line x1="544.70" y1="225.40" x2="544.70" y2="221.00" stroke="#1c1c1c" stroke-width="1.2" />
<line x1="597.30" y1="225.40" x2="597.30" y2="221.00" stroke="#1c1c1c" stroke-width="1.2" />
<line x1="649.90" y1="225.40" x2="649.90" y2="221.00" stroke="#1c1c1c" stroke-width="1.2" />
<line x1="413.20" y1="225.40" x2="413.20" y2="223.00" stroke="#1c1c1c" stroke-width="1.2" />
<line x1="465.80" y1="225.40" x2="465.80" y2="223.00" stroke="#1c1c1c" stroke-width="1.2" />
<line x1="518.40" y1="225.40" x2="518.40" y2="223.00" stroke="#1c1c1c" stroke-width="1.2" />
<line x1="571.00" y1="225.40" x2="571.00" y2="223.00" stroke="#1c1c1c" stroke-width="1.2" />
<line x1="623.60" y1="225.40" x2="623.60" y2="223.00" stroke="#1c1c1c" stroke-width="1.2" />
<line x1="676.20" y1="225.40" x2="676.20" y2="223.00" stroke="#1c1c1c" stroke-width="1.2" />
<line x1="387.30" y1="12.45" x2="391.70" y2="12.45" stroke="#1c1c1c" stroke-width="1.2" />
<line x1="387.30" y1="38.30" x2="391.70" y2="38.30" stroke="#1c1c1c" stroke-width="1.2" />
<line x1="387.30" y1="64.15" x2="391.70" y2="64.15" stroke="#1c1c1c" stroke-width="1.2" />
<line x1="387.30" y1="90.00" x2="391.70" y2="90.00" stroke="#1c1c1c" stroke-width="1.2" />
<line x1="387.30" y1="115.85" x2="391.70" y2="115.85" stroke="#1c1c1c" stroke-width="1.2" />
<line x1="387.30" y1="141.70" x2="391.70" y2="141.70" stroke="#1c1c1c" stroke-width="1.2" />
<line x1="387.30" y1="167.55" x2="391.70" y2="167.55" stroke="#1c1c1c" stroke-width="1.2" />
<line x1="387.30" y1="193.40" x2="391.70" y2="193.40" stroke="#1c1c1c" stroke-width="1.2" />
<line x1="387.30" y1="219.25" x2="391.70" y2="219.25" stroke="#1c1c1c" stroke-width="1.2" />
<line x1="387.30" y1="25.38" x2="389.70" y2="25.38" stroke="#1c1c1c" stroke-width="1.2" />
<line x1="387.30" y1="51.22" x2="389.70" y2="51.22" stroke="#1c1c1c" stroke-width="1.2" />
<line x1="387.30" y1="77.07" x2="389.70" y2="77.07" stroke="#1c1c1c" stroke-width="1.2" />
<line x1="387.30" y1="102.92" x2="389.70" y2="102.92" stroke="#1c1c1c" stroke-width="1.2" />
<line x1="387.30" y1="128.78" x2="389.70" y2="128.78" stroke="#1c1c1c" stroke-width="1.2" />
<line x1="387.30" y1="154.62" x2="389.70" y2="154.62" stroke="#1c1c1c" stroke-width="1.2" />
<line x1="387.30" y1="180.47" x2="389.70" y2="180.47" stroke="#1c1c1c" stroke-width="1.2" />
<line x1="387.30" y1="206.32" x2="389.70" y2="206.32" stroke="#1c1c1c" stroke-width="1.2" />
<line x1="124.75" y1="445.30" x2="124.75" y2="440.90" stroke="#1c1c1c" stroke-width="1.2" />
<line x1="177.15" y1="445.30" x2="177.15" y2="440.90" stroke="#1c1c1c" stroke-width="1.2" />
<line x1="229.55" y1="445.30" x2="229.55" y2="440.90" stroke="#1c1c1c" stroke-width="1.2" />
<line x1="281.95" y1="445.30" x2="281.95" y2="440.90" stroke="#1c1c1c" stroke-width="1.2" />
<line x1="334.35" y1="445.30" x2="334.35" y2="440.90" stroke="#1c1c1c" stroke-width="1.2" />
<line x1="98.55" y1="445.30" x2="98.55" y2="442.90" stroke="#1c1c1c" stroke-width="1.2" />
<line x1="150.95" y1="445.30" x2="150.95" y2="442.90" stroke="#1c1c1c" stroke-width="1.2" />
<line x1="203.35" y1="445.30" x2="203.35" y2="442.90" stroke="#1c1c1c" stroke-width="1.2" />
<line x1="255.75" y1="445.30" x2="255.75" y2="442.90" stroke="#1c1c1c" stroke-width="1.2" />
<line x1="308.15" y1="445.30" x2="308.15" y2="442.90" stroke="#1c1c1c" stroke-width="1.2" />
<line x1="360.55" y1="445.30" x2="360.55" y2="442.90" stroke="#1c1c1c" stroke-width="1.2" />
<line x1="72.30" y1="257.89" x2="76.70" y2="257.89" stroke="#1c1c1c" stroke-width="1.2" />
<line x1="72.30" y1="296.62" x2="76.70" y2="296.62" stroke="#1c1c1c" stroke-width="1.2" />
<line x1="72.30" y1="335.35" x2="76.70" y2="335.35" stroke="#1c1c1c" stroke-width="1.2" />
<line x1="72.30" y1="374.08" x2="76.70" y2="374.08" stroke="#1c1c1c" stroke-width="1.2" />
<line x1="72.30" y1="412.81" x2="76.70" y2="412.81" stroke="#1c1c1c" stroke-width="1.2" />
<line x1="72.30" y1="238.53" x2="74.70" y2="238.53" stroke="#1c1c1c" stroke-width="1.2" />
<line x1="72.30" y1="277.25" x2="74.70" y2="277.25" stroke="#1c1c1c" stroke-width="1.2" />
<line x1="72.30" y1="315.99" x2="74.70" y2="315.99" stroke="#1c1c1c" stroke-width="1.2" />
<line x1="72.30" y1="354.72" x2="74.70" y2="354.72" stroke="#1c1c1c" stroke-width="1.2" />
<line x1="72.30" y1="393.45" x2="74.70" y2="393.45" stroke="#1c1c1c" stroke-width="1.2" />
<line x1="72.30" y1="432.18" x2="74.70" y2="432.18" stroke="#1c1c1c" stroke-width="1.2" />
<line x1="418.70" y1="445.30" x2="418.70" y2="440.90" stroke="#1c1c1c" stroke-width="1.2" />
<line x1="481.70" y1="445.30" x2="481.70" y2="440.90" stroke="#1c1c1c" stroke-width="1.2" />
<line x1="544.70" y1="445.30" x2="544.70" y2="440.90" stroke="#1c1c1c" stroke-width="1.2" />
<line x1="607.70" y1="445.30" x2="607.70" y2="440.90" stroke="#1c1c1c" stroke-width="1.2" />
<line x1="670.70" y1="445.30" x2="670.70" y2="440.90" stroke="#1c1c1c" stroke-width="1.2" />
<line x1="450.20" y1="445.30" x2="450.20" y2="442.90" stroke="#1c1c1c" stroke-width="1.2" />
<line x1="513.20" y1="445.30" x2="513.20" y2="442.90" stroke="#1c1c1c" stroke-width="1.2" />
<line x1="576.20" y1="445.30" x2="576.20" y2="442.90" stroke="#1c1c1c" stroke-width="1.2" />
<line x1="639.20" y1="445.30" x2="639.20" y2="442.90" stroke="#1c1c1c" stroke-width="1.2" />
<line x1="387.30" y1="232.55" x2="391.70" y2="232.55" stroke="#1c1c1c" stroke-width="1.2" />
<line x1="387.30" y1="258.25" x2="391.70" y2="258.25" stroke="#1c1c1c" stroke-width="1.2" />
<line x1="387.30" y1="283.95" x2="391.70" y2="283.95" stroke="#1c1c1c" stroke-width="1.2" />
<line x1="387.30" y1="309.65" x2="391.70" y2="309.65" stroke="#1c1c1c" stroke-width="1.2" />
<line x1="387.30" y1="335.35" x2="391.70" y2="335.35" stroke="#1c1c1c" stroke-width="1.2" />
<line x1="387.30" y1="361.05" x2="391.70" y2="361.05" stroke="#1c1c1c" stroke-width="1.2" />
<line x1="387.30" y1="386.75" x2="391.70" y2="386.75" stroke="#1c1c1c" stroke-width="1.2" />
<line x1="387.30" y1="412.45" x2="391.70" y2="412.45" stroke="#1c1c1c" stroke-width="1.2" />
<line x1="387.30" y1="438.15" x2="391.70" y2="438.15" stroke="#1c1c1c" stroke-width="1.2" />
<line x1="387.30" y1="245.40" x2="389.70" y2="245.40" stroke="#1c1c1c" stroke-width="1.2" />
<line x1="387.30" y1="271.10" x2="389.70" y2="271.10" stroke="#1c1c1c" stroke-width="1.2" />
<line x1="387.30" y1="296.80" x2="389.70" y2="296.80" stroke="#1c1c1c" stroke-width="1.2" />
<line x1="387.30" y1="322.50" x2="389.70" y2="322.50" stroke="#1c1c1c" stroke-width="1.2" />
<line x1="387.30" y1="348.20" x2="389.70" y2="348.20" stroke="#1c1c1c" stroke-width="1.2" />
<line x1="387.30" y1="373.90" x2="389.70" y2="373.90" stroke="#1c1c1c" stroke-width="1.2" />
<line x1="387.30" y1="399.60" x2="389.70" y2="399.60" stroke="#1c1c1c" stroke-width="1.2" />
<line x1="387.30" y1="425.30" x2="389.70" y2="425.30" stroke="#1c1c1c" stroke-width="1.2" />
<g class="s t" font-size="30.5" text-anchor="end"><text transform="translate(67.8,48.4) scale(0.88,1)">60</text><text transform="translate(67.8,87.7) scale(0.88,1)">30</text><text transform="translate(67.8,125.8) scale(0.88,1)">0</text><text transform="translate(67.8,165.2) scale(0.88,1)">-30</text><text transform="translate(67.8,203.2) scale(0.88,1)">-60</text><text transform="translate(67.8,268.1) scale(0.88,1)">60</text><text transform="translate(67.8,306.7) scale(0.88,1)">30</text><text transform="translate(67.8,345.4) scale(0.88,1)">0</text><text transform="translate(67.8,384.1) scale(0.88,1)">-30</text><text transform="translate(67.8,422.8) scale(0.88,1)">-60</text></g>
<g class="s t" font-size="30.5" text-anchor="middle"><text transform="translate(119.7,468.1) scale(0.88,1)">-2</text><text transform="translate(171.1,468.1) scale(0.88,1)">-1</text><text transform="translate(229,468.1) scale(0.88,1)">0</text><text transform="translate(282.4,468.1) scale(0.88,1)">1</text><text transform="translate(334.4,468.1) scale(0.88,1)">2</text><text transform="translate(414,468.1) scale(0.88,1)">-2</text><text transform="translate(477.7,468.1) scale(0.88,1)">-1</text><text transform="translate(544.2,468.1) scale(0.88,1)">0</text><text transform="translate(607,468.1) scale(0.88,1)">1</text><text transform="translate(669.7,468.1) scale(0.88,1)">2</text></g>

<text class="s" font-size="29.5" transform="translate(279.5,498.1) scale(0.962,1)">Electric field (kV/cm)</text>
<text class="s" font-size="29.2" transform="translate(25.9,356.3) rotate(-90) scale(0.979,1)">Polarization (nC/cm<tspan dy="-9.9" dx="0.6" font-size="16">2</tspan><tspan dy="9.9" dx="0.3">)</tspan></text>
<g class="n" font-size="24.5" stroke-width="0.2">
<text transform="translate(95.7,39.6) scale(0.83,1)" fill="#000" stroke="#000">BFO</text>
<text transform="translate(411,39.3) scale(0.835,1)" fill="#0a74c8" stroke="#0a74c8">BLaFO</text>
<text transform="translate(96,269.4) scale(0.846,1)" fill="#dc0f1a" stroke="#dc0f1a">BEuFO</text>
<text transform="translate(411.1,269.4) scale(0.86,1)" fill="#137826" stroke="#137826">BErFO</text>
</g>

</svg>
</body></html>
